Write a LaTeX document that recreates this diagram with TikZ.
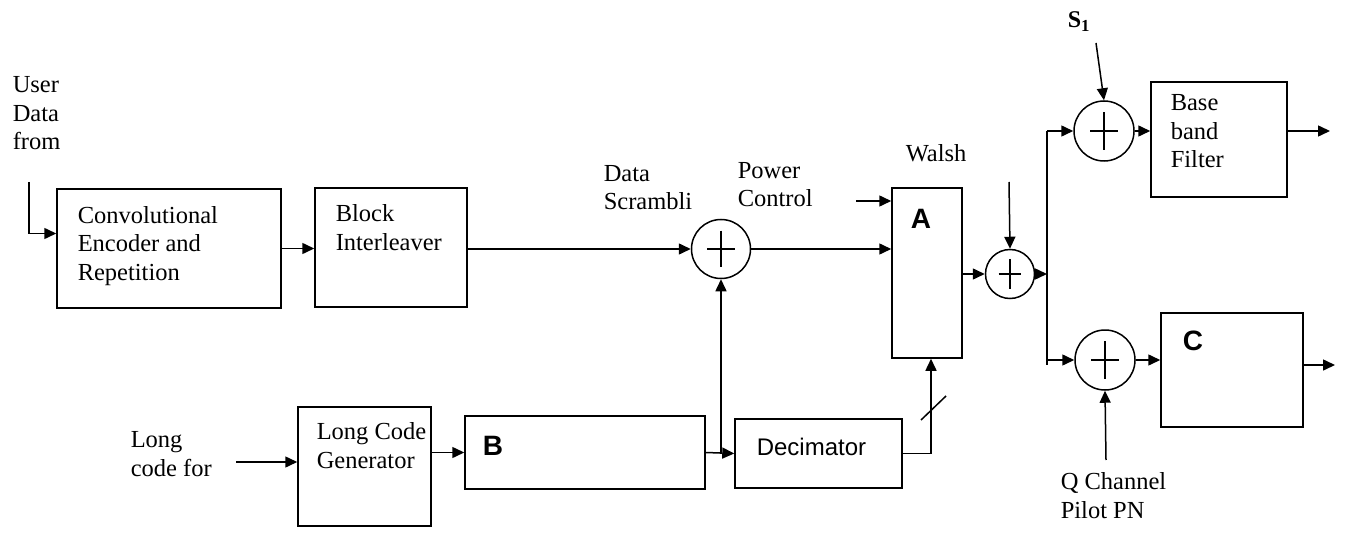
\documentclass[tikz,border=0pt]{standalone}
\usepackage{fontspec}
\setmainfont{Liberation Serif}
\setsansfont{Liberation Sans}
\usetikzlibrary{calc,positioning,arrows.meta}

\begin{document}
\begin{tikzpicture}[x=1pt,y=-1pt,line width=1.5pt,line cap=butt,line join=miter,
  font=\fontsize{24.5}{28.5}\selectfont,
  blk/.style={draw,rectangle,inner sep=0pt},
  sumnode/.style={draw,circle,inner sep=0pt,
    path picture={\draw
      ($(path picture bounding box.west)!.27!(path picture bounding box.east)$) --
      ($(path picture bounding box.west)!.73!(path picture bounding box.east)$)
      ($(path picture bounding box.north)!.19!(path picture bounding box.south)$) --
      ($(path picture bounding box.north)!.81!(path picture bounding box.south)$);}},
  lbl/.style={inner sep=0pt,anchor=base west,align=left},
  sflbl/.style={lbl,font=\fontsize{24}{28}\sffamily},
  letter/.style={lbl,font=\fontsize{28}{30}\sffamily\bfseries},
  arr/.style={-{Triangle[length=12pt,width=11pt]}}]
  \useasboundingbox (0,0) rectangle (1346,548);

  % blocks
  \node[blk,minimum width=224pt,minimum height=119pt] (conv) at (169,248.5) {};
  \node[blk,minimum width=152pt,minimum height=119pt] (inter) at (391,247.5) {};
  \node[blk,minimum width=70pt,minimum height=170pt] (walsh) at (927,273) {};
  \node[blk,minimum width=133pt,minimum height=119pt] (lcg) at (364.5,466.5) {};
  \node[blk,minimum width=240pt,minimum height=73pt] (boxB) at (585,452.5) {};
  \node[blk,minimum width=167pt,minimum height=69pt] (dec) at (818.5,453.5) {};
  \node[blk,minimum width=136pt,minimum height=115pt] (bbf) at (1219,139.5) {};
  \node[blk,minimum width=142pt,minimum height=114pt] (boxC) at (1232,370) {};

  % adders
  \node[sumnode,minimum size=59pt] (scr) at (721,249) {};
  \node[sumnode,minimum size=49pt] (wadd) at (1010,274) {};
  \node[sumnode,minimum size=60pt] (iadd) at (1104,131) {};
  \node[sumnode,minimum size=60pt] (qadd) at (1105,360) {};

  % free ends
  \coordinate (udin) at (29,182);
  \coordinate (lcin) at (236,462);
  \coordinate (pcin) at (856,201);
  \coordinate (wain) at (1009,182);
  \coordinate (s1in) at (1096,43);
  \coordinate (qin) at (1106,460);
  \coordinate (bust) at (1047,131);
  \coordinate (busb) at (1047,365);
  \coordinate (iout) at (1330,131);
  \coordinate (qout) at (1335,365);

  % texts (multi-line ones sit on their last baseline)
  \node[lbl] (tud) at (12,150) {User\\Data\\from};
  \node[lbl] (tconv) at (77,280) {Convolutional\\Encoder and\\Repetition};
  \node[lbl] (tinter) at (335,250) {Block\\Interleaver};
  \node[lbl] (tscr) at (603,210) {Data\\Scrambli};
  \node[lbl] (tpc) at (737,207) {Power\\Control};
  \node[lbl] (twalsh) at (905,162) {Walsh};
  \node[letter] (tA) at (910,228) {A};
  \node[lbl,font=\fontsize{24}{26}\selectfont\bfseries] (ts1) at (1067,28) {S\textsubscript{1}};
  \node[lbl] (tbbf) at (1170,168) {Base\\band\\Filter};
  \node[letter] (tC) at (1182,350) {C};
  \node[lbl] (tq) at (1060,518) {Q Channel\\Pilot PN};
  \node[lbl] (tlc) at (130,476) {Long\\code for};
  \node[lbl] (tlcg) at (316,468) {Long Code\\Generator};
  \node[letter] (tB) at (482,455) {B};
  \node[sflbl] (tdec) at (756,455) {Decimator};

  % connectors
  \draw[arr] (udin) |- ([yshift=15pt]conv.west);
  \draw[arr] (conv.east) -- (conv.east -| inter.west);
  \draw[arr] (inter.east |- scr.west) -- (scr.west);
  \draw[arr] (scr.east) -- (scr.east -| walsh.west);
  \draw[arr] (pcin) -- (pcin -| walsh.west);
  \draw[arr] (lcin) -- (lcin -| lcg.west);
  \draw[arr] (lcg.east |- boxB.west) -- (boxB.west);
  \draw[arr] (boxB.east) -- (dec.west);
  \draw[arr] (scr.south |- boxB.east) -- (scr.south);
  \draw[arr] (dec.east) -| ([xshift=4pt]walsh.south);
  \draw (921,420) -- (946,396);
  \draw[arr] (walsh.east |- wadd.west) -- (wadd.west);
  \draw[arr] (wain) -- (wadd.north);
  \draw (bust) -- (busb);
  \draw[arr] (wadd.east) -- (wadd.east -| bust);
  \draw[arr] (bust) -- (iadd.west);
  \draw[arr] (busb |- qadd.west) -- (qadd.west);
  \draw[arr] (s1in) -- (iadd.north);
  \draw[arr] (iadd.east) -- (iadd.east -| bbf.west);
  \draw[arr] (bbf.east |- iout) -- (iout);
  \draw[arr] (qadd.east) -- (qadd.east -| boxC.west);
  \draw[arr] (boxC.east |- qout) -- (qout);
  \draw[arr] (qin) -- (qadd.south);
\end{tikzpicture}
\end{document}
